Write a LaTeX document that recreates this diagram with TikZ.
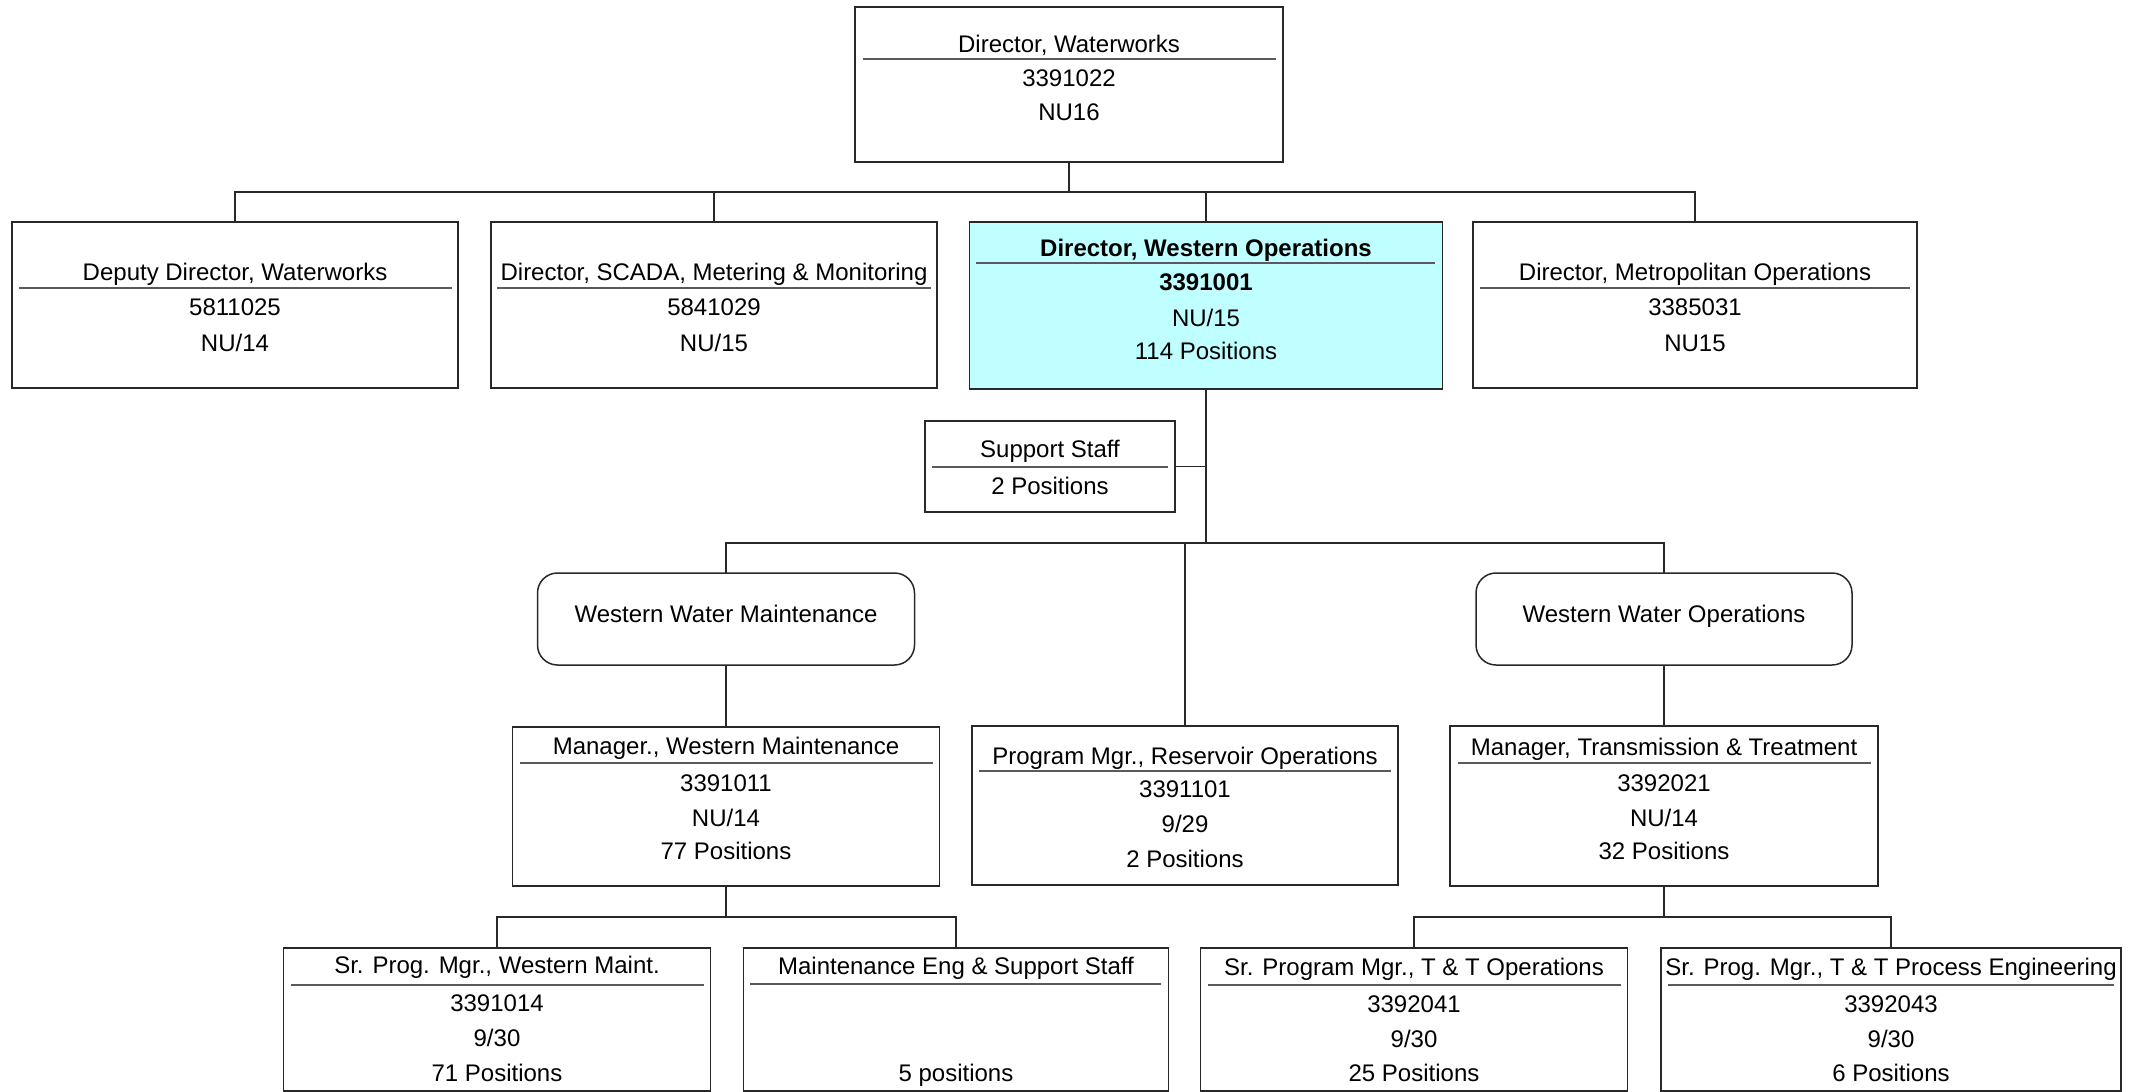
\documentclass[tikz,border=0pt]{standalone}
\usepackage{fontspec}
\setmainfont{Liberation Sans}
\definecolor{cyanfill}{RGB}{192,255,255}
\definecolor{edge}{RGB}{40,40,40}
\definecolor{sepc}{RGB}{90,90,90}
\newcommand\txtline[5][]{\node[lbl,#1] (#2) at (#3,#4+9) {#5};}
\newcommand\sepline[3]{\draw[sepline] (#1,#3) -- (#2,#3);}
\begin{document}
\begin{tikzpicture}[x=1pt,y=-1pt,
  box/.style={draw=edge, line width=1.5pt, fill=white, inner sep=0pt, outer sep=0pt},
  group/.style={box, rounded corners=20pt},
  lbl/.style={anchor=base, inner sep=0pt, font=\fontsize{24}{34}\selectfont, text=black},
  sepline/.style={draw=sepc, line width=1.5pt},
  conn/.style={draw=edge, line width=1.5pt}]
\useasboundingbox (0,0) rectangle (2136,1092);

% ---- boxes ----
\node[box, minimum width=428pt, minimum height=155pt] (top) at (1069,84.5) {};
\node[box, minimum width=446pt, minimum height=166pt] (deputy) at (235,305) {};
\node[box, minimum width=446pt, minimum height=166pt] (scada) at (714,305) {};
\node[box, fill=cyanfill, minimum width=473pt, minimum height=167pt] (west) at (1206,305.5) {};
\node[box, minimum width=444pt, minimum height=166pt] (metro) at (1695,305) {};
\node[box, minimum width=250pt, minimum height=91pt] (support) at (1050,466.5) {};
\node[group, minimum width=377pt, minimum height=92pt] (wwm) at (726,619) {};
\node[group, minimum width=376pt, minimum height=92pt] (wwo) at (1664,619) {};
\node[box, minimum width=427pt, minimum height=159pt] (mwm) at (726,806.5) {};
\node[box, minimum width=426pt, minimum height=159pt] (pmr) at (1185,805.5) {};
\node[box, minimum width=428pt, minimum height=160pt] (mtt) at (1664,806) {};
\node[box, minimum width=427pt, minimum height=143pt] (spw) at (497,1019.5) {};
\node[box, minimum width=425pt, minimum height=143pt] (mes) at (956,1019.5) {};
\node[box, minimum width=427pt, minimum height=143pt] (stto) at (1414,1019.5) {};
\node[box, minimum width=460pt, minimum height=143pt] (sttp) at (1891,1019.5) {};

% ---- texts and separators ----
\txtline{top-1}{1069}{43}{Director, Waterworks}
\sepline{863}{1276}{59}
\txtline{top-2}{1069}{77}{3391022}
\txtline{top-3}{1069}{111}{NU16}

\txtline{deputy-1}{235}{271}{Deputy Director, Waterworks}
\sepline{19}{452}{288}
\txtline{deputy-2}{235}{306}{5811025}
\txtline{deputy-3}{235}{342}{NU/14}

\txtline{scada-1}{714}{271}{Director, SCADA, Metering \& Monitoring}
\sepline{497}{931}{288}
\txtline{scada-2}{714}{306}{5841029}
\txtline{scada-3}{714}{342}{NU/15}

\txtline[font=\fontsize{24}{34}\selectfont\bfseries]{west-1}{1206}{247}{Director, Western Operations}
\sepline{976}{1435}{263}
\txtline[font=\fontsize{24}{34}\selectfont\bfseries]{west-2}{1206}{281}{3391001}
\txtline{west-3}{1206}{317}{NU/15}
\txtline{west-4}{1206}{350}{114 Positions}

\txtline{metro-1}{1695}{271}{Director, Metropolitan Operations}
\sepline{1480}{1910}{288}
\txtline{metro-2}{1695}{306}{3385031}
\txtline{metro-3}{1695}{342}{NU15}

\txtline{support-1}{1050}{448}{Support Staff}
\sepline{932}{1168}{467}
\txtline{support-2}{1050}{485}{2 Positions}

\txtline{wwm-1}{726}{613}{Western Water Maintenance}
\txtline{wwo-1}{1664}{613}{Western Water Operations}

\txtline{mwm-1}{726}{745}{Manager., Western Maintenance}
\sepline{520}{933}{763}
\txtline{mwm-2}{726}{782}{3391011}
\txtline{mwm-3}{726}{817}{NU/14}
\txtline{mwm-4}{726}{850}{77 Positions}

\txtline{pmr-1}{1185}{755}{Program Mgr., Reservoir Operations}
\sepline{979}{1391}{771}
\txtline{pmr-2}{1185}{788}{3391101}
\txtline{pmr-3}{1185}{823}{9/29}
\txtline{pmr-4}{1185}{858}{2 Positions}

\txtline{mtt-1}{1664}{746}{Manager, Transmission \& Treatment}
\sepline{1458}{1871}{763}
\txtline{mtt-2}{1664}{782}{3392021}
\txtline{mtt-3}{1664}{817}{NU/14}
\txtline{mtt-4}{1664}{850}{32 Positions}

\txtline{spw-1}{497}{964}{Sr. Prog. Mgr., Western Maint.}
\sepline{291}{704}{985}
\txtline{spw-2}{497}{1002}{3391014}
\txtline{spw-3}{497}{1037}{9/30}
\txtline{spw-4}{497}{1072}{71 Positions}

\txtline{mes-1}{956}{965}{Maintenance Eng \& Support Staff}
\sepline{750}{1161}{984}
\txtline{mes-2}{956}{1072}{5 positions}

\txtline{stto-1}{1414}{966}{Sr. Program Mgr., T \& T Operations}
\sepline{1208}{1621}{985}
\txtline{stto-2}{1414}{1003}{3392041}
\txtline{stto-3}{1414}{1038}{9/30}
\txtline{stto-4}{1414}{1072}{25 Positions}

\txtline{sttp-1}{1891}{966}{Sr. Prog. Mgr., T \& T Process Engineering}
\sepline{1668}{2114}{985}
\txtline{sttp-2}{1891}{1003}{3392043}
\txtline{sttp-3}{1891}{1038}{9/30}
\txtline{sttp-4}{1891}{1072}{6 Positions}

% ---- connectors ----
\coordinate (b1) at (0,192);
\coordinate (b2) at (0,543);
\coordinate (b3) at (0,917);
\draw[conn] (top.south) -- (top.south |- b1);
\draw[conn] (deputy.north) |- (metro.north |- b1) -- (metro.north);
\draw[conn] (scada.north) -- (scada.north |- b1);
\draw[conn] (west.north) -- (west.north |- b1);
\draw[conn] (west.south) -- (west.south |- b2);
\draw[conn] (support.east) -- (support.east -| west.south);
\draw[conn] (wwm.north) |- (wwo.north |- b2) -- (wwo.north);
\draw[conn] (pmr.north) -- (pmr.north |- b2);
\draw[conn] (wwm.south) -- (mwm.north);
\draw[conn] (wwo.south) -- (mtt.north);
\draw[conn] (mwm.south) -- (mwm.south |- b3);
\draw[conn] (spw.north) |- (mes.north |- b3) -- (mes.north);
\draw[conn] (mtt.south) -- (mtt.south |- b3);
\draw[conn] (stto.north) |- (sttp.north |- b3) -- (sttp.north);
\end{tikzpicture}
\end{document}
